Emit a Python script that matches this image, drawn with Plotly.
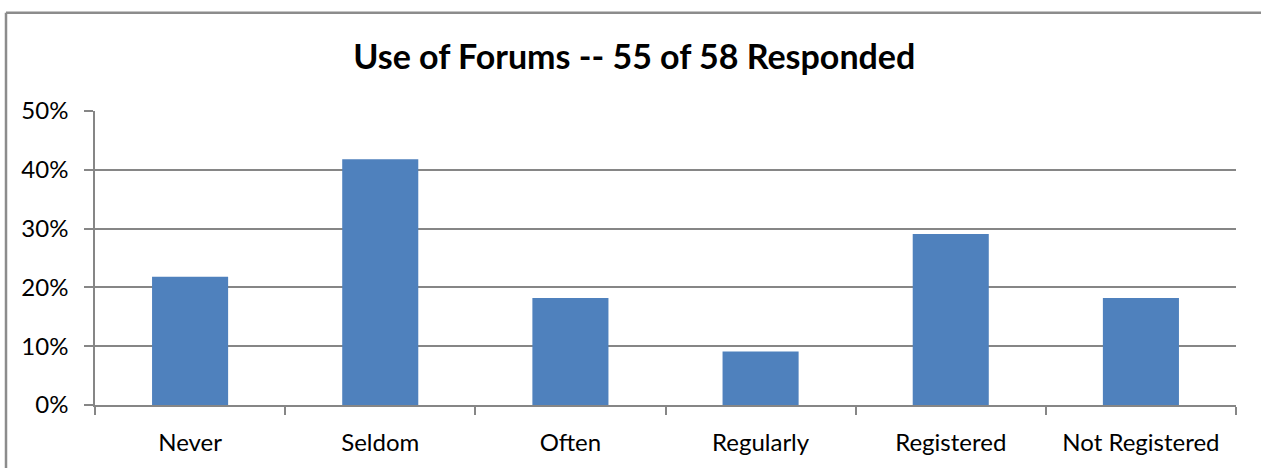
import plotly.graph_objects as go

# Survey results: share of 55 respondents per answer
categories = ["Never", "Seldom", "Often", "Regularly", "Registered", "Not Registered"]
shares = [0.218, 0.418, 0.182, 0.091, 0.291, 0.182]
y_ticks = [0, 0.1, 0.2, 0.3, 0.4, 0.5]
y_labels = ["0%", "10%", "20%", "30%", "40%", "50%"]

FONT = "Lato"
GRID = "#868686"
FRAME = dict(color="#8c8c8c", width=2.5)

fig = go.Figure(
    go.Bar(x=categories, y=shares, marker_color="#4F81BD", marker_line_width=0)
)

fig.update_layout(
    width=1261,
    height=468,
    margin=dict(l=95, r=25, t=111, b=61),
    paper_bgcolor="white",
    plot_bgcolor="white",
    bargap=0.6,
    showlegend=False,
    font=dict(family=FONT, size=24, color="black"),
    title=dict(
        text="<b>Use of Forums -- 55 of 58 Responded</b>",
        x=0.503,
        xanchor="center",
        y=0.878,
        yanchor="middle",
        font=dict(family=FONT, size=34, color="black"),
    ),
    # chart frame: only the left and top edges are inside the picture
    shapes=[
        dict(type="line", xref="paper", yref="paper",
             x0=-0.078, x1=-0.078, y0=-0.3, y1=1.334, line=FRAME, layer="below"),
        dict(type="line", xref="paper", yref="paper",
             x0=-0.078, x1=1.05, y0=1.334, y1=1.334, line=FRAME, layer="below"),
    ],
)

fig.update_yaxes(
    range=[0, 0.5],
    tickvals=y_ticks,
    ticktext=y_labels,
    showgrid=True,
    gridcolor=GRID,
    gridwidth=1.5,
    showline=True,
    linecolor=GRID,
    linewidth=1.5,
    ticks="outside",
    ticklen=9,
    tickcolor=GRID,
    tickwidth=1.5,
    ticklabelstandoff=11,
    zeroline=False,
)
fig.update_xaxes(
    showline=True,
    linecolor=GRID,
    linewidth=1.5,
    ticks="outside",
    tickson="boundaries",
    ticklen=8,
    tickcolor=GRID,
    tickwidth=1.5,
    ticklabelstandoff=15,
)

# the page body has a default 8px margin and may scroll; pin the chart to the corner
fig.write_html(
    "out.html",
    config={"displayModeBar": False},
    post_script=(
        "document.body.style.margin='0';"
        "document.body.style.overflow='hidden';"
        "document.documentElement.style.overflow='hidden';"
    ),
)
